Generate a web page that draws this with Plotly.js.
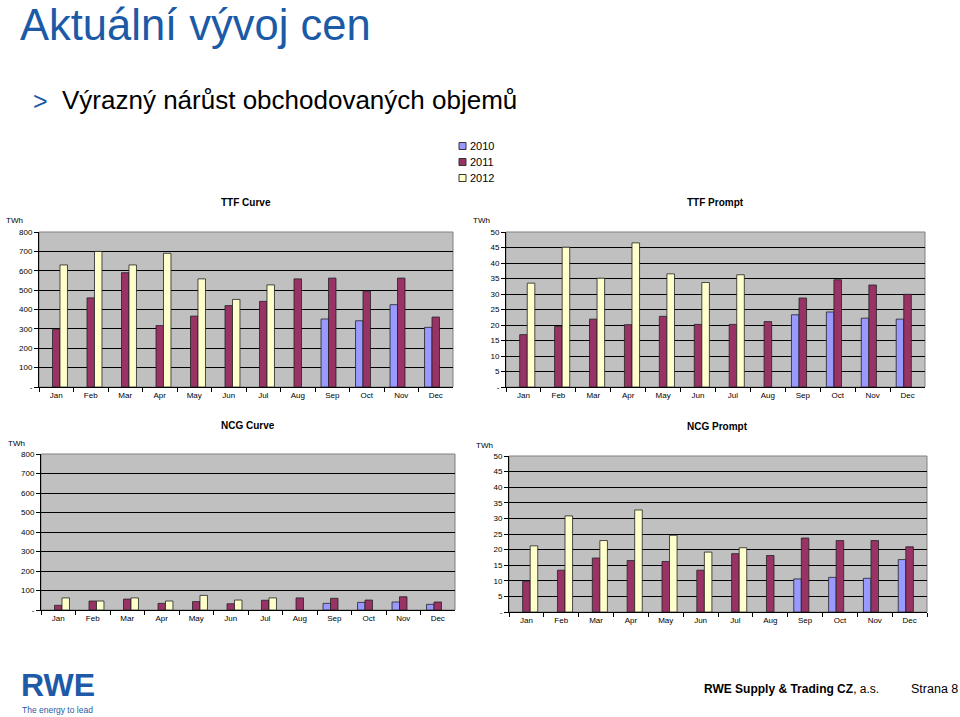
<!DOCTYPE html>
<html>
<head>
<meta charset="utf-8">
<script src="https://cdn.plot.ly/plotly-3.0.1.min.js"></script>
<style>
html,body{margin:0;padding:0;background:#fff;}
#chart{width:960px;height:717px;}
</style>
</head>
<body>
<div id="chart"></div>
<script>
// ---- data ----
const months = ["Jan","Feb","Mar","Apr","May","Jun","Jul","Aug","Sep","Oct","Nov","Dec"];
const years = ["2010","2011","2012"];

const ttfCurve2010 = [null,null,null,null,null,null,null,null,351,342,425,308];
const ttfCurve2011 = [298,460,590,317,366,420,442,558,562,495,562,361];
const ttfCurve2012 = [630,700,630,690,558,452,527,null,null,null,null,null];

const ttfPrompt2010 = [null,null,null,null,null,null,null,null,23.3,24.2,22.2,21.9];
const ttfPrompt2011 = [16.9,19.5,21.9,20.1,22.8,20.2,20.2,21.1,28.7,34.6,32.9,29.9];
const ttfPrompt2012 = [33.5,45.1,35.1,46.5,36.5,33.7,36.2,null,null,null,null,null];

const ncgCurve2010 = [null,null,null,null,null,null,null,null,34,39,41,29];
const ncgCurve2011 = [24,46,56,34,43,32,50,62,60,51,68,41];
const ncgCurve2012 = [62,46,62,46,75,51,62,null,null,null,null,null];

const ncgPrompt2010 = [null,null,null,null,null,null,null,null,10.6,11.1,10.8,16.8];
const ncgPrompt2011 = [9.9,13.4,17.3,16.5,16.2,13.4,18.7,18.1,23.7,22.9,22.9,20.9];
const ncgPrompt2012 = [21.2,30.8,22.9,32.7,24.6,19.2,20.6,null,null,null,null,null];

const curveTickVals = [0,100,200,300,400,500,600,700,800];
const curveTickText = ["-","100","200","300","400","500","600","700","800"];
const promptTickVals = [0,5,10,15,20,25,30,35,40,45,50];
const promptTickText = ["-","5","10","15","20","25","30","35","40","45","50"];

const chartTitles = ["TTF Curve","TTF Prompt","NCG Curve","NCG Prompt"];

// ---- styles ----
const colors = ["#9999FF","#993366","#FFFFCC"];
const FONT = "Liberation Sans, Arial, sans-serif";

const charts = [
  {vals:[ttfCurve2010,ttfCurve2011,ttfCurve2012], tv:curveTickVals, tt:curveTickText, max:800},
  {vals:[ttfPrompt2010,ttfPrompt2011,ttfPrompt2012], tv:promptTickVals, tt:promptTickText, max:50},
  {vals:[ncgCurve2010,ncgCurve2011,ncgCurve2012], tv:curveTickVals, tt:curveTickText, max:800},
  {vals:[ncgPrompt2010,ncgPrompt2011,ncgPrompt2012], tv:promptTickVals, tt:promptTickText, max:50}
];

const domains = [
  {x:[39/960,453/960], y:[1-387/717,1-232/717]},
  {x:[506/960,925/960], y:[1-387/717,1-232/717]},
  {x:[41/960,455/960], y:[1-610/717,1-454/717]},
  {x:[509/960,927/960], y:[1-612/717,1-456/717]}
];

const traces = [];
const layout = {
  width:960, height:717,
  margin:{l:0,r:0,t:0,b:0},
  paper_bgcolor:"#ffffff",
  barmode:"group",
  bargap:0.35,
  bargroupgap:0,
  font:{family:FONT,color:"#000"},
  showlegend:false,
  annotations:[], shapes:[]
};

charts.forEach((c,i)=>{
  const sfx = i===0 ? "" : String(i+1);
  const xa = "x"+sfx, ya = "y"+sfx;
  years.forEach((yr,k)=>{
    traces.push({
      type:"bar", x:months, y:c.vals[k], name:yr,
      xaxis:xa, yaxis:ya,
      marker:{color:colors[k], line:{color:"#222", width:0.8}},
      legendgroup:yr, showlegend:false,
      hoverinfo:"skip"
    });
  });
  layout["xaxis"+sfx] = {
    domain:domains[i].x, anchor:ya,
    type:"category", categoryorder:"array", categoryarray:months,
    showline:true, linecolor:"#000", linewidth:1,
    ticks:"outside", tickson:"boundaries", ticklen:4, tickcolor:"#000",
    tickfont:{size:8, family:FONT, color:"#000"},
    showgrid:false, fixedrange:true
  };
  layout["yaxis"+sfx] = {
    domain:domains[i].y, anchor:xa,
    range:[0,c.max],
    tickvals:c.tv, ticktext:c.tt,
    showline:true, linecolor:"#000", linewidth:1,
    ticks:"outside", ticklen:4, tickcolor:"#000",
    tickfont:{size:8, family:FONT, color:"#000"},
    showgrid:true, gridcolor:"#000", gridwidth:1,
    zeroline:false, fixedrange:true
  };
  layout.shapes.push({type:"rect", xref:xa+" domain", yref:ya+" domain",
    x0:0,x1:1,y0:0,y1:1, line:{color:"#808080",width:1}, fillcolor:"rgba(0,0,0,0)", layer:"below"});
  const dx = domains[i].x, dy = domains[i].y;
  layout.annotations.push({xref:"paper", yref:"paper",
    x:(dx[0]+dx[1])/2, y:dy[1]+29/717, xanchor:"center", yanchor:"middle",
    text:"<b>"+chartTitles[i]+"</b>", showarrow:false,
    font:{size:10, family:FONT, color:"#000"}});
  layout.annotations.push({xref:"paper", yref:"paper",
    x:dx[0]-35/960, y:dy[1]+11/717, xanchor:"left", yanchor:"middle",
    text:"TWh", showarrow:false,
    font:{size:8, family:FONT, color:"#000"}});
});
layout.plot_bgcolor = "#C0C0C0";

// legend (drawn manually to match the compact Excel legend)
years.forEach((yr,k)=>{
  const yc = 146 + 16*k;
  layout.shapes.push({type:"rect", xref:"paper", yref:"paper",
    x0:459/960, x1:466/960, y0:1-(yc+3.5)/717, y1:1-(yc-3.5)/717,
    fillcolor:colors[k], line:{color:"#333",width:1}});
  layout.annotations.push({xref:"paper", yref:"paper", x:468/960, y:1-yc/717,
    xanchor:"left", yanchor:"middle", text:yr, showarrow:false,
    font:{size:11, family:FONT, color:"#000"}});
});

// slide texts
layout.annotations.push(
  {xref:"paper", yref:"paper", x:19/960, y:1, xanchor:"left", yanchor:"top",
   text:"Aktuální vývoj cen", showarrow:false, borderpad:0,
   font:{size:43.5, family:FONT, color:"#1A5AA6"}},
  {xref:"paper", yref:"paper", x:31/960, y:1-101/717, xanchor:"left", yanchor:"middle",
   text:">", showarrow:false,
   font:{size:25, family:FONT, color:"#1A5AA6"}},
  {xref:"paper", yref:"paper", x:60/960, y:1-100/717, xanchor:"left", yanchor:"middle",
   text:"Výrazný nárůst obchodovaných objemů", showarrow:false,
   font:{size:26, family:FONT, color:"#000"}},
  {xref:"paper", yref:"paper", x:20/960, y:1-685/717, xanchor:"left", yanchor:"middle",
   text:"<b>RWE</b>", showarrow:false, borderpad:0,
   font:{size:32, family:FONT, color:"#1F5AA8"}},
  {xref:"paper", yref:"paper", x:21/960, y:1-709.5/717, xanchor:"left", yanchor:"middle",
   text:"The energy to lead", showarrow:false, borderpad:0,
   font:{size:8.5, family:FONT, color:"#1F5AA8"}},
  {xref:"paper", yref:"paper", x:702/960, y:1-689/717, xanchor:"left", yanchor:"middle",
   text:"<b>RWE Supply &amp; Trading CZ</b>, a.s.", showarrow:false,
   font:{size:12, family:FONT, color:"#000"}},
  {xref:"paper", yref:"paper", x:960/960, y:1-689/717, xanchor:"right", yanchor:"middle",
   text:"Strana 8", showarrow:false,
   font:{size:12.5, family:FONT, color:"#000"}}
);

Plotly.newPlot("chart", traces, layout, {displayModeBar:false, staticPlot:true});
</script>
</body>
</html>
